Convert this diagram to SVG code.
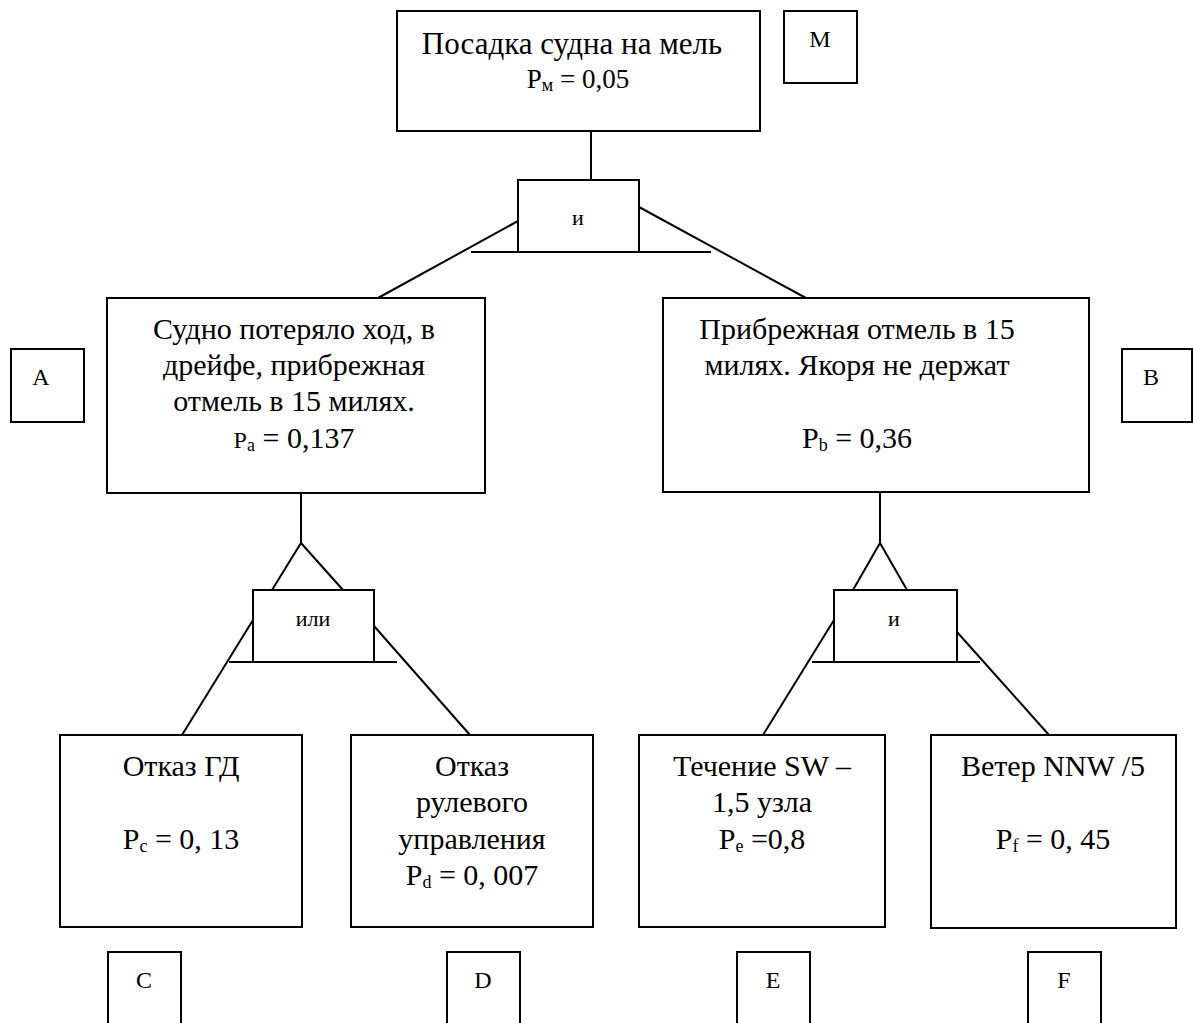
<svg xmlns="http://www.w3.org/2000/svg" width="1193" height="1023" viewBox="0 0 1193 1023" font-family="Liberation Serif, serif">
<style>
  rect { fill: #fff; stroke: #000; stroke-width: 2; }
  line, polyline { fill: none; stroke: #000; stroke-width: 2; }
  text { fill: #000; text-anchor: middle; }
  .t { font-size: 30px; }
  .tt { font-size: 31px; }
  .p { font-size: 27px; }
  .lbl { font-size: 24px; }
  .g { font-size: 22px; }
  .sub { font-size: 18px; }
</style>
<rect x="0" y="0" width="1193" height="1023" style="fill:#fff;stroke:none"/>
<g id="connectors">
  <line x1="591" y1="131" x2="591" y2="180"/>
  <line x1="471" y1="252" x2="711" y2="252"/>
  <line x1="518" y1="221" x2="378" y2="298"/>
  <line x1="639" y1="207" x2="806" y2="298"/>
  <line x1="301" y1="493" x2="301" y2="543"/>
  <polyline points="272,590 301,543 343,590"/>
  <line x1="229" y1="662" x2="397" y2="662"/>
  <line x1="253" y1="620" x2="182" y2="735"/>
  <line x1="374" y1="626" x2="470" y2="735"/>
  <line x1="880" y1="492" x2="880" y2="543"/>
  <polyline points="853,590 880,543 907,590"/>
  <line x1="812" y1="662" x2="980" y2="662"/>
  <line x1="834" y1="620" x2="763" y2="735"/>
  <line x1="957" y1="632" x2="1049" y2="735"/>
</g>
<g id="node-top">
  <rect x="397" y="11" width="363" height="120"/>
  <text class="tt" x="572" y="54">Посадка судна на мель</text>
  <text class="p" x="578" y="88">P<tspan class="sub" dy="3">м</tspan><tspan dy="-3"> = 0,05</tspan></text>
</g>
<g id="label-M">
  <rect x="784" y="11" width="73" height="72"/>
  <text class="lbl" x="820" y="47">М</text>
</g>
<g id="gate-top">
  <rect x="518" y="180" width="121" height="72"/>
  <text class="g" x="578" y="225">и</text>
</g>
<g id="node-A">
  <rect x="107" y="298" width="378" height="195"/>
  <text class="t" x="294" y="339">Судно потеряло ход, в</text>
  <text class="t" x="294" y="375">дрейфе, прибрежная</text>
  <text class="t" x="294" y="411">отмель в 15 милях.</text>
  <text class="t" x="294" y="448"><tspan font-size="24">P</tspan><tspan class="sub" dy="3">a</tspan><tspan dy="-3"> = 0,137</tspan></text>
</g>
<g id="label-A">
  <rect x="11" y="349" width="73" height="73"/>
  <text class="lbl" x="41" y="385">A</text>
</g>
<g id="node-B">
  <rect x="663" y="298" width="426" height="194"/>
  <text class="t" x="857" y="339">Прибрежная отмель в 15</text>
  <text class="t" x="857" y="375">милях. Якоря не держат</text>
  <text class="t" x="857" y="448">P<tspan class="sub" dy="3">b</tspan><tspan dy="-3"> = 0,36</tspan></text>
</g>
<g id="label-B">
  <rect x="1122" y="349" width="70" height="73"/>
  <text class="lbl" x="1151" y="385">B</text>
</g>
<g id="gate-or">
  <rect x="253" y="590" width="121" height="72"/>
  <text class="g" x="313" y="626">или</text>
</g>
<g id="gate-and">
  <rect x="834" y="590" width="123" height="72"/>
  <text class="g" x="894" y="626">и</text>
</g>
<g id="node-C">
  <rect x="60" y="735" width="242" height="192"/>
  <text class="t" x="181" y="776">Отказ ГД</text>
  <text class="t" x="181" y="849">P<tspan class="sub" dy="3">c</tspan><tspan dy="-3"> = 0, 13</tspan></text>
</g>
<g id="node-D">
  <rect x="351" y="735" width="242" height="192"/>
  <text class="t" x="472" y="776">Отказ</text>
  <text class="t" x="472" y="812">рулевого</text>
  <text class="t" x="472" y="849">управления</text>
  <text class="t" x="472" y="885">P<tspan class="sub" dy="3">d</tspan><tspan dy="-3"> = 0, 007</tspan></text>
</g>
<g id="node-E">
  <rect x="639" y="735" width="246" height="192"/>
  <text class="t" x="762" y="776">Течение SW –</text>
  <text class="t" x="762" y="812">1,5 узла</text>
  <text class="t" x="762" y="849">P<tspan class="sub" dy="3">e</tspan><tspan dy="-3"> =0,8</tspan></text>
</g>
<g id="node-F">
  <rect x="931" y="735" width="245" height="193"/>
  <text class="t" x="1053" y="776">Ветер NNW /5</text>
  <text class="t" x="1053" y="849">P<tspan class="sub" dy="3">f</tspan><tspan dy="-3">  = 0, 45</tspan></text>
</g>
<g id="label-C">
  <rect x="108" y="952" width="73" height="80"/>
  <text class="lbl" x="144" y="988">C</text>
</g>
<g id="label-D">
  <rect x="447" y="952" width="73" height="80"/>
  <text class="lbl" x="483" y="988">D</text>
</g>
<g id="label-E">
  <rect x="737" y="952" width="73" height="80"/>
  <text class="lbl" x="773" y="988">E</text>
</g>
<g id="label-F">
  <rect x="1028" y="952" width="73" height="80"/>
  <text class="lbl" x="1064" y="988">F</text>
</g>
</svg>
